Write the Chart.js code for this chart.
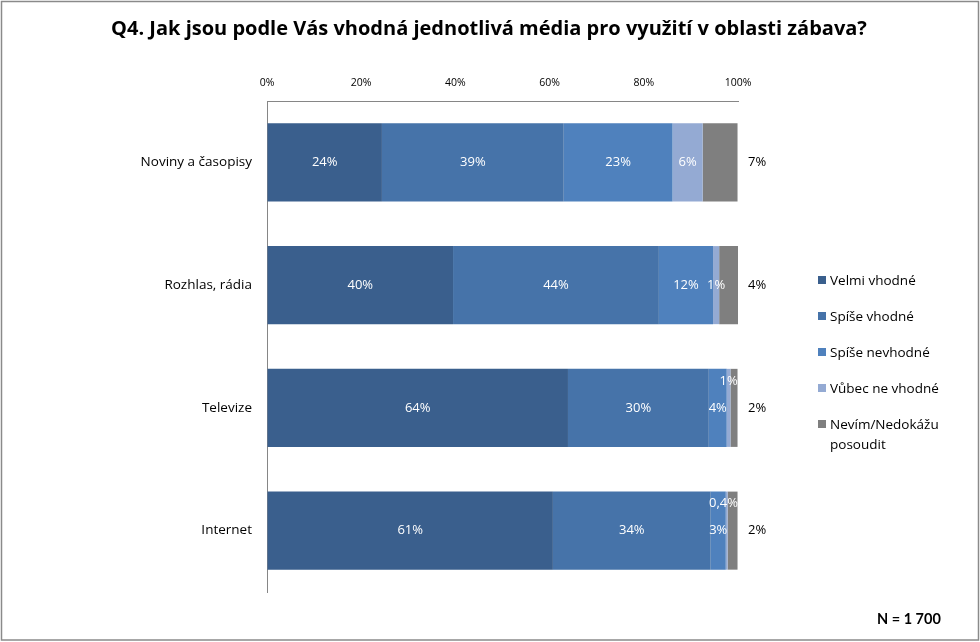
<!DOCTYPE html>
<html>
<head>
<meta charset="utf-8">
<script src="https://cdn.jsdelivr.net/npm/chart.js@4/dist/chart.umd.min.js"></script>
<style>
  html, body { margin: 0; padding: 0; background: #fff; }
  #wrap { position: relative; width: 980px; height: 642px; }
  #c { position: absolute; left: 0; top: 0; }
  #legend { position: absolute; left: 818px; top: 270px; font-family: "Open Sans", Lato, sans-serif; font-size: 13.5px; color: #000; }
  #legend .item { display: flex; align-items: flex-start; height: 36px; line-height: 20px; }
  #legend .sw { width: 8px; height: 8px; margin-top: 6px; margin-right: 4px; flex: none; }
  #legend .tx { width: 140px; }
  #n { position: absolute; left: 877px; top: 610px; font-family: Lato, "Open Sans", sans-serif; font-weight: bold; font-size: 14.5px; color: #000; }
</style>
</head>
<body>
<div id="wrap">
  <canvas id="c" width="980" height="642"></canvas>
  <div id="legend"></div>
  <div id="n">N = 1 700</div>
</div>
<script>
const titleText = "Q4. Jak jsou podle Vás vhodná jednotlivá média pro využití v oblasti zábava?";
const categories = ["Noviny a časopisy", "Rozhlas, rádia", "Televize", "Internet"];
const seriesNames = ["Velmi vhodné", "Spíše vhodné", "Spíše nevhodné", "Vůbec ne vhodné", "Nevím/Nedokážu posoudit"];
const velmiVhodne    = [24.4, 39.5, 63.9, 60.7];
const spiseVhodne    = [38.6, 43.7, 29.9, 33.5];
const spiseNevhodne  = [23.1, 11.5, 3.8, 3.2];
const vubecNeVhodne  = [6.4, 1.3, 0.8, 0.4];
const nevim          = [7.4, 4.0, 1.5, 2.1];
const tickValues = [0, 20, 40, 60, 80, 100];
const colors = ["#3A5F8D", "#4673A9", "#4F81BD", "#94AAD3", "#7F7F7F"];

const seriesValues = [velmiVhodne, spiseVhodne, spiseNevhodne, vubecNeVhodne, nevim];
const FONT = "'Open Sans', Lato, sans-serif";

function fmt(v) {
  if (v < 0.5) return v.toFixed(1).replace('.', ',') + '%';
  return Math.round(v) + '%';
}

const labelsPlugin = {
  id: 'segLabels',
  afterDatasetsDraw(chart) {
    const ctx = chart.ctx;
    const area = chart.chartArea;
    ctx.save();
    ctx.font = "13px " + FONT;
    ctx.textBaseline = 'middle';
    const n = chart.data.datasets.length;
    for (let i = 0; i < chart.data.labels.length; i++) {
      let prevRight = -Infinity;
      for (let d = 0; d < n; d++) {
        const el = chart.getDatasetMeta(d).data[i];
        const v = chart.data.datasets[d].data[i];
        const txt = fmt(v);
        const w = ctx.measureText(txt).width;
        if (d === n - 1) {
          ctx.fillStyle = '#000';
          ctx.textAlign = 'left';
          ctx.fillText(txt, area.right + 10, el.y);
          continue;
        }
        let cx = (el.x + el.base) / 2;
        let cy = el.y;
        ctx.fillStyle = '#fff';
        ctx.textAlign = 'center';
        if (cx - w / 2 < prevRight + 1) {
          cy = el.y - 27;
          if (cx + w / 2 > area.right) cx = area.right - w / 2;
        } else {
          prevRight = cx + w / 2;
        }
        ctx.fillText(txt, cx, cy);
      }
    }
    ctx.restore();
  }
};

const framePlugin = {
  id: 'frame',
  afterDraw(chart) {
    const ctx = chart.ctx;
    ctx.save();
    ctx.strokeStyle = '#8a8a8a';
    ctx.lineWidth = 1.5;
    ctx.strokeRect(1.5, 1.5, 977, 638.5);
    ctx.fillStyle = '#000';
    ctx.font = "bold 20px " + FONT;
    ctx.textAlign = 'center';
    ctx.textBaseline = 'middle';
    ctx.fillText(titleText, 489, 29);
    ctx.restore();
  }
};

const chart = new Chart(document.getElementById('c'), {
  type: 'bar',
  data: {
    labels: categories,
    datasets: seriesNames.map((name, k) => ({
      label: name,
      data: seriesValues[k],
      backgroundColor: colors[k],
      borderWidth: 0,
      barPercentage: 0.636,
      categoryPercentage: 1
    }))
  },
  options: {
    indexAxis: 'y',
    responsive: false,
    animation: false,
    layout: { padding: { left: 0, right: 242, top: 1, bottom: 50 } },
    plugins: { legend: { display: false }, tooltip: { enabled: false }, title: { display: false } },
    scales: {
      x: {
        position: 'top',
        stacked: true,
        min: 0, max: 100,
        afterFit(s) { s.height = 100; },
        afterBuildTicks(s) { s.ticks = tickValues.map(v => ({ value: v })); },
        grid: { display: true, color: 'transparent', drawTicks: false },
        border: { display: true, color: '#868686', width: 1 },
        ticks: { padding: 12, color: '#000', font: { family: FONT, size: 10.5 }, callback: v => v + '%', maxRotation: 0 }
      },
      y: {
        stacked: true,
        afterFit(s) { s.width = 267; },
        grid: { display: true, color: 'transparent', drawTicks: false },
        border: { display: true, color: '#868686', width: 1 },
        ticks: { padding: 15, color: '#000', font: { family: FONT, size: 13.5 } }
      }
    }
  },
  plugins: [labelsPlugin, framePlugin]
});

const leg = document.getElementById('legend');
seriesNames.forEach((name, k) => {
  const it = document.createElement('div');
  it.className = 'item';
  it.innerHTML = '<span class="sw" style="background:' + colors[k] + '"></span><span class="tx">' + name + '</span>';
  leg.appendChild(it);
});
</script>
</body>
</html>
